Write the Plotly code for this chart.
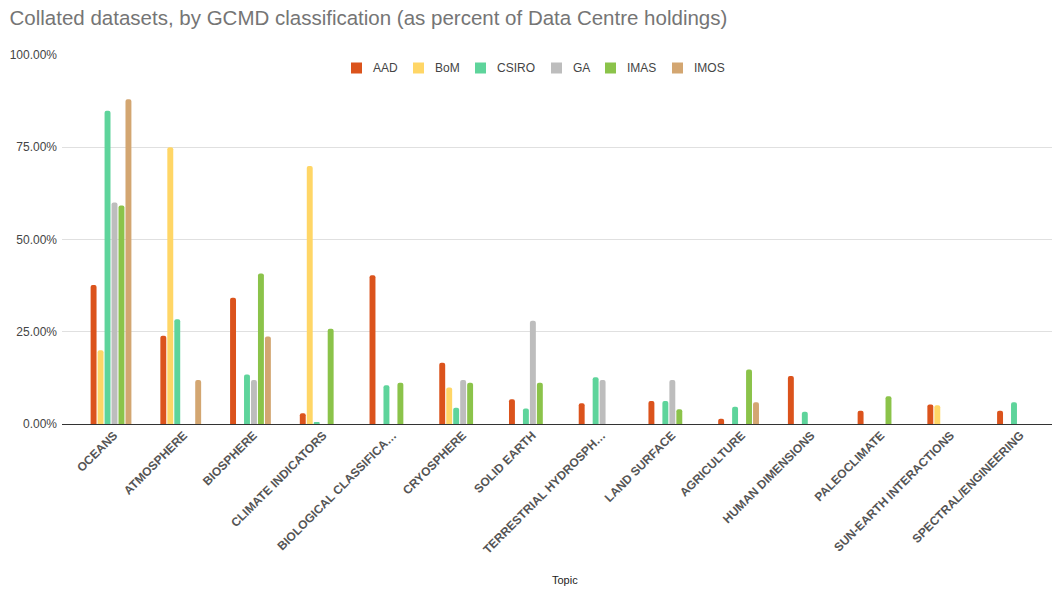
import plotly.graph_objects as go

topics = ["OCEANS", "ATMOSPHERE", "BIOSPHERE", "CLIMATE INDICATORS",
          "BIOLOGICAL CLASSIFICA…", "CRYOSPHERE", "SOLID EARTH",
          "TERRESTRIAL HYDROSPH…", "LAND SURFACE", "AGRICULTURE",
          "HUMAN DIMENSIONS", "PALEOCLIMATE", "SUN-EARTH INTERACTIONS",
          "SPECTRAL/ENGINEERING"]

aad   = [37.7, 23.9, 34.2, 2.9, 40.3, 16.6, 6.7, 5.6, 6.2, 1.4, 13.0, 3.6, 5.3, 3.6]
bom   = [20.0, 75.0, 0.0, 69.9, 0.0, 9.9, 0.0, 0.0, 0.0, 0.0, 0.0, 0.0, 5.1, 0.0]
csiro = [84.9, 28.4, 13.4, 0.3, 10.5, 4.4, 4.2, 12.7, 6.2, 4.7, 3.3, 0.0, 0.0, 5.9]
ga    = [60.0, 0.0, 11.9, 0.0, 0.0, 11.9, 28.0, 11.9, 11.9, 0.0, 0.0, 0.0, 0.0, 0.0]
imas  = [59.2, 0.0, 40.8, 25.8, 11.2, 11.2, 11.2, 0.0, 4.0, 14.8, 0.0, 7.5, 0.0, 0.0]
imos  = [88.0, 11.9, 23.7, 0.0, 0.0, 0.0, 0.0, 0.0, 0.0, 5.9, 0.0, 0.0, 0.0, 0.0]

series_names = ["AAD", "BoM", "CSIRO", "GA", "IMAS", "IMOS"]
series_values = [aad, bom, csiro, ga, imas, imos]
series_colors = ["#db531c", "#ffd666", "#5ed49b", "#bdbdbd", "#8bc34a", "#d3a671"]

y_ticks = [0, 25, 50, 75, 100]

# layout geometry (pixels)
W, H = 1055, 589
L, R, T, B = 62, 3, 55, 165
PW, PH = W - L - R, H - T - B
legend_px = [351, 413, 475, 551, 605, 672]   # left edge of legend swatches
legend_py = 68                               # legend row centre


def px_x(p):
    return (p - L) / PW


def px_y(p):
    return (H - B - p) / PH


fig = go.Figure()
for name, vals, col in zip(series_names, series_values, series_colors):
    fig.add_trace(go.Bar(x=topics, y=vals, name=name, marker_color=col,
                         marker_line_width=0, showlegend=False))

# legend drawn manually to match spacing
for name, col, lx in zip(series_names, series_colors, legend_px):
    fig.add_shape(type="rect", xref="paper", yref="paper",
                  x0=px_x(lx), x1=px_x(lx + 11),
                  y0=px_y(legend_py + 5.5), y1=px_y(legend_py - 5.5),
                  fillcolor=col, line_width=0, layer="above")
    fig.add_annotation(text=name, xref="paper", yref="paper",
                       x=px_x(lx + 20), y=px_y(legend_py), xanchor="left",
                       yanchor="middle", showarrow=False,
                       font=dict(size=12, color="#444444"))

fig.update_layout(
    width=W, height=H,
    paper_bgcolor="white", plot_bgcolor="white",
    barmode="group", bargap=0.4, bargroupgap=0.15, barcornerradius=3,
    margin=dict(l=L, r=R, t=T, b=B),
    font=dict(family="Liberation Sans, Arial, sans-serif"),
    title=dict(text="Collated datasets, by GCMD classification (as percent of Data Centre holdings)",
               x=0.009, xref="container", xanchor="left",
               y=1 - 18 / H, yref="container", yanchor="middle",
               font=dict(size=20.5, color="#757575")),
    showlegend=False,
)
fig.update_xaxes(range=[-0.703, 13.495], tickangle=-45, showgrid=False,
                 ticks="", tickfont=dict(size=12, color="#555555",
                                         family="Liberation Sans, Arial, sans-serif",
                                         weight="bold"),
                 ticklabelshift=3, ticklabelstandoff=1,
                 showline=False)
fig.update_yaxes(range=[0, 100], tickvals=y_ticks,
                 ticktext=[f"{v:.2f}%" for v in y_ticks],
                 showgrid=True, gridcolor="#e0e0e0", gridwidth=1,
                 zeroline=True, zerolinecolor="#333333", zerolinewidth=1,
                 tickfont=dict(size=12, color="#444444"), ticks="", ticklabelstandoff=4)
fig.add_annotation(text="Topic", xref="paper", yref="paper", x=px_x(565), y=px_y(580),
                   xanchor="center", yanchor="middle",
                   showarrow=False, font=dict(size=11, color="#222222"))

fig.write_html("out.html")
